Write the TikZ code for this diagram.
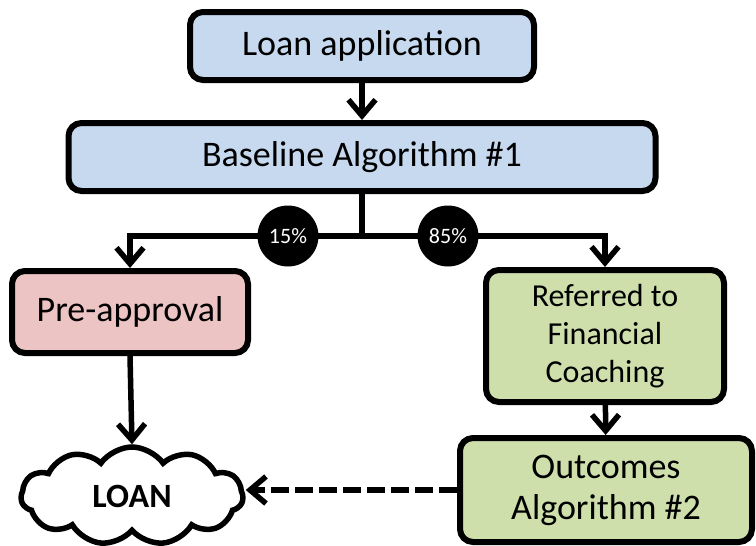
\documentclass[tikz,border=0pt]{standalone}
\usepackage{fontspec}
\setmainfont{Carlito}
\usetikzlibrary{arrows.meta,shapes.symbols}
\definecolor{boxblue}{RGB}{198,217,238}
\definecolor{boxpink}{RGB}{236,196,195}
\definecolor{boxgreen}{RGB}{207,223,172}
\begin{document}
\begin{tikzpicture}[x=1pt,y=-1pt,
  box/.style={draw=black,line width=6pt,rounded corners=13pt,align=center,
    font=\fontsize{36}{42}\selectfont,inner sep=0pt},
  arr/.style={line width=5.5pt,-{Straight Barb[length=16pt,width=27pt,line width=5.5pt]}},
  pct/.style={circle,fill=black,minimum size=61pt,inner sep=0pt,text=white,
    font=\fontsize{22}{26}\selectfont}]
\useasboundingbox (0,0) rectangle (756,546);
\node[box,fill=boxblue,minimum width=344pt,minimum height=68pt] (app) at (362,46) {Loan application};
\node[box,fill=boxblue,minimum width=587pt,minimum height=68pt] (base) at (362,157) {Baseline Algorithm \#1};
\node[box,fill=boxpink,minimum width=236pt,minimum height=82pt] (pre) at (130,312) {Pre-approval};
\node[box,fill=boxgreen,minimum width=238pt,minimum height=132pt,font=\fontsize{32}{38}\selectfont] (ref) at (605,336) {Referred to\\Financial\\Coaching};
\node[box,fill=boxgreen,minimum width=292pt,minimum height=104pt,font=\fontsize{36}{41}\selectfont] (out) at (606,490) {Outcomes\\Algorithm \#2};
\node[cloud,draw=black,line width=5.5pt,fill=white,cloud puffs=11,cloud puff arc=110,aspect=2.4,
  minimum width=222pt,minimum height=98pt,inner sep=0pt,font=\bfseries\fontsize{34}{38}\selectfont] (cloud) at (132,496) {LOAN};
\coordinate (split) at (362,236);
\draw[arr] (app) -- (base);
\draw[line width=5.5pt] (base.south) -- (split);
\draw[arr] (split) -| (pre.north);
\draw[arr] (split) -| (ref.north);
\draw[arr] (ref) -- (out);
\draw[arr] (pre.south) -- (cloud.north);
\draw[arr,dash pattern=on 18pt off 6pt] (out.west) -- (out.west -| cloud.east);
\node[pct] (p15) at (288,236) {15\%};
\node[pct] (p85) at (448,236) {85\%};
\end{tikzpicture}
\end{document}
